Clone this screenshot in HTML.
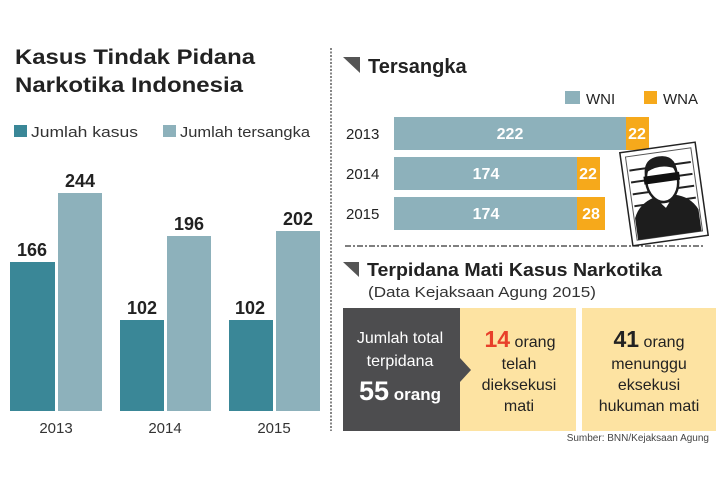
<!DOCTYPE html>
<html><head><meta charset="utf-8"><style>
html,body{margin:0;padding:0;background:#fff;}
svg{display:block;font-family:"Liberation Sans",Arial,sans-serif;}
</style></head><body>
<svg width="720" height="480" viewBox="0 0 720 480" xmlns="http://www.w3.org/2000/svg">
<rect width="720" height="480" fill="#fff"/>
<text x="15" y="64" font-size="21" font-weight="bold" fill="#222" textLength="240" lengthAdjust="spacingAndGlyphs">Kasus Tindak Pidana</text>
<text x="15" y="92" font-size="21" font-weight="bold" fill="#222" textLength="228" lengthAdjust="spacingAndGlyphs">Narkotika Indonesia</text>
<rect x="14" y="125" width="13" height="12" fill="#3a8797"/>
<text x="31" y="137" font-size="15" fill="#333" textLength="107" lengthAdjust="spacingAndGlyphs">Jumlah kasus</text>
<rect x="163" y="125" width="13" height="12" fill="#8db1bb"/>
<text x="180" y="137" font-size="15" fill="#333" textLength="130" lengthAdjust="spacingAndGlyphs">Jumlah tersangka</text>
<g fill="#3a8797">
<rect x="10" y="262" width="45" height="149"/>
<rect x="120" y="320" width="44" height="91"/>
<rect x="229" y="320" width="44" height="91"/>
</g>
<g fill="#8db1bb">
<rect x="58" y="193" width="44" height="218"/>
<rect x="167" y="236" width="44" height="175"/>
<rect x="276" y="231" width="44" height="180"/>
</g>
<g font-size="18" font-weight="bold" fill="#222" text-anchor="middle">
<text x="32" y="256">166</text>
<text x="80" y="187">244</text>
<text x="142" y="314">102</text>
<text x="189" y="230">196</text>
<text x="250" y="314">102</text>
<text x="298" y="225">202</text>
</g>
<g font-size="15" fill="#333" text-anchor="middle">
<text x="56" y="433">2013</text>
<text x="165" y="433">2014</text>
<text x="274" y="433">2015</text>
</g>
<line x1="331" y1="48" x2="331" y2="431" stroke="#444" stroke-width="1.3" stroke-dasharray="2,1.5"/>
<polygon points="343,57 360,57 360,73" fill="#555"/>
<text x="368" y="73" font-size="20" font-weight="bold" fill="#222">Tersangka</text>
<rect x="565" y="91" width="15" height="13" fill="#8db1bb"/>
<text x="586" y="104" font-size="15" fill="#222">WNI</text>
<rect x="644" y="91" width="13" height="13" fill="#f6a91b"/>
<text x="663" y="104" font-size="15" fill="#222">WNA</text>
<g font-size="15" fill="#222">
<text x="346" y="139">2013</text>
<text x="346" y="179">2014</text>
<text x="346" y="219">2015</text>
</g>
<rect x="394" y="117" width="232" height="33" fill="#8db1bb"/>
<rect x="626" y="117" width="23" height="33" fill="#f6a91b"/>
<rect x="394" y="157" width="183" height="33" fill="#8db1bb"/>
<rect x="577" y="157" width="23" height="33" fill="#f6a91b"/>
<rect x="394" y="197" width="183" height="33" fill="#8db1bb"/>
<rect x="577" y="197" width="28" height="33" fill="#f6a91b"/>
<g font-size="16" font-weight="bold" fill="#fff" text-anchor="middle">
<text x="510" y="139">222</text>
<text x="637" y="139">22</text>
<text x="486" y="179">174</text>
<text x="588" y="179">22</text>
<text x="486" y="219">174</text>
<text x="591" y="219">28</text>
</g>
<line x1="345" y1="246" x2="705" y2="246" stroke="#333" stroke-width="1.3" stroke-dasharray="6,2,2,2"/>
<g transform="rotate(-8 664 194)">
<rect x="626" y="147" width="76" height="94" fill="#fff" stroke="#222" stroke-width="1.5"/>
<rect x="631" y="152" width="66" height="84" fill="#fff" stroke="#555" stroke-width="1"/>
<g stroke="#222" stroke-width="2">
<line x1="633" y1="166" x2="695" y2="166"/>
<line x1="633" y1="178" x2="695" y2="178"/>
<line x1="633" y1="190" x2="695" y2="190"/>
<line x1="633" y1="202" x2="695" y2="202"/>
</g>
<path d="M632,236 L632,214 Q638,200 654,196 L664,208 L674,196 Q690,200 696,214 L696,236 Z" fill="#1d1d1d"/>
<ellipse cx="664" cy="180" rx="16" ry="22" fill="#fff" stroke="#1d1d1d" stroke-width="2.5"/>
<path d="M648,180 Q645,156 664,156 Q683,156 680,180 L678,170 Q664,163 650,170 Z" fill="#1d1d1d"/>
<rect x="646" y="174" width="36" height="8" fill="#111"/>
</g>
<polygon points="343,262 359,262 359,277" fill="#555"/>
<text x="367" y="276" font-size="18" font-weight="bold" fill="#222" textLength="295" lengthAdjust="spacingAndGlyphs">Terpidana Mati Kasus Narkotika</text>
<text x="368" y="297" font-size="15" fill="#333" textLength="228" lengthAdjust="spacingAndGlyphs">(Data Kejaksaan Agung 2015)</text>
<rect x="460" y="308" width="116" height="123" fill="#fde3a2"/>
<rect x="582" y="308" width="134" height="123" fill="#fde3a2"/>
<path d="M343,308 L460,308 L460,358 L471,370 L460,382 L460,431 L343,431 Z" fill="#4d4d4f"/>
<g fill="#fff" text-anchor="middle">
<text x="400" y="343" font-size="16">Jumlah total</text>
<text x="400" y="366" font-size="16">terpidana</text>
<text x="400" y="400"><tspan font-size="27" font-weight="bold">55</tspan><tspan font-size="17" font-weight="bold"> orang</tspan></text>
</g>
<g fill="#222" text-anchor="middle" font-size="16">
<text x="520" y="347"><tspan font-size="23" font-weight="bold" fill="#e8402a">14</tspan> orang</text>
<text x="519" y="369">telah</text>
<text x="519" y="390">dieksekusi</text>
<text x="519" y="411">mati</text>
<text x="649" y="347"><tspan font-size="23" font-weight="bold">41</tspan> orang</text>
<text x="649" y="369">menunggu</text>
<text x="649" y="390">eksekusi</text>
<text x="649" y="411">hukuman mati</text>
</g>
<text x="709" y="441" font-size="10" fill="#444" text-anchor="end">Sumber: BNN/Kejaksaan Agung</text>
</svg>
</body></html>
